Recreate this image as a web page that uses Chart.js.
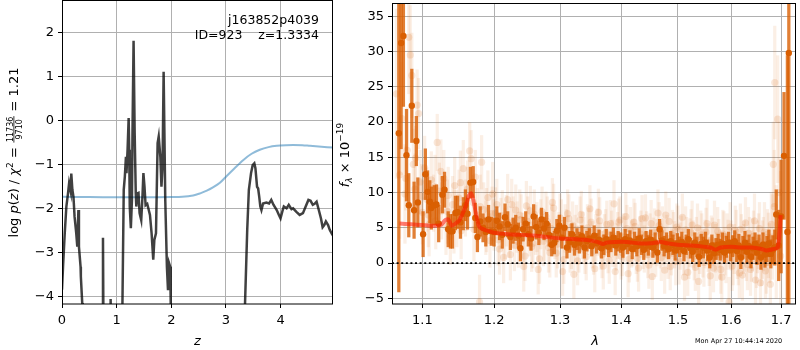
<!DOCTYPE html>
<html>
<head>
<meta charset="utf-8">
<script src="https://cdn.jsdelivr.net/npm/chart.js@4.4.0/dist/chart.umd.min.js"></script>
<style>
  html, body { margin: 0; padding: 0; background: #fff; }
  #wrap { position: relative; width: 800px; height: 350px; }
  canvas { position: absolute; top: 0; }
  #pz { left: 0; }
  #spec { left: 336px; }
</style>
</head>
<body>
<div id="wrap">
  <canvas id="pz" width="336" height="350"></canvas>
  <canvas id="spec" width="464" height="350"></canvas>
</div>
<script>
// ---- redshift panel ----
const zTicks = [0, 1, 2, 3, 4];
const logpTicks = [-4, -3, -2, -1, 0, 1, 2];

const zGrid = [0.00, 0.02, 0.05, 0.08, 0.11, 0.13, 0.16, 0.17, 0.19, 0.21, 0.23, 0.26, 0.28, 0.30, 0.31, 0.34, 0.345, 0.37, 0.38,
  0.74, 0.75, 0.76, 0.88, 0.89, 0.90,
  1.10, 1.106, 1.13, 1.15, 1.17, 1.18, 1.20, 1.22, 1.23, 1.24, 1.26, 1.28, 1.29, 1.31, 1.33, 1.35, 1.36, 1.38, 1.40, 1.42, 1.45,
  1.47, 1.49, 1.51, 1.53, 1.56, 1.58, 1.61, 1.64, 1.67, 1.69, 1.72, 1.75, 1.77, 1.80, 1.82, 1.84, 1.86, 1.89, 1.92, 1.94, 1.96,
  1.98, 1.99, 2.00,
  3.34, 3.35, 3.39, 3.42, 3.46, 3.49, 3.52, 3.54, 3.57, 3.59, 3.61, 3.63, 3.65, 3.68, 3.74, 3.79, 3.83, 3.87, 3.93, 3.97, 4.00,
  4.04, 4.06, 4.11, 4.15, 4.20, 4.23, 4.29, 4.35, 4.41, 4.46, 4.51, 4.55, 4.59, 4.63, 4.66, 4.70, 4.74, 4.77, 4.80, 4.83, 4.87,
  4.90, 4.94, 4.96];
const logpZ = [-3.85, -3.3, -2.57, -1.96, -1.66, -1.43, -1.62, -1.21, -1.58, -1.74, -2.19, -2.56, -2.87, -2.04, -2.87, -3.33, -3.55, -4.15, -5,
  -5, -2.67, -5, -5, -4.06, -5,
  -5, -4.2, -1.58, -1.28, -0.83, -1.2, -0.67, 0.05, -0.67, -1.96, -2.45, -1.81, -0.30, 1.81, -0.29, -1.66, -1.96, -1.66, -1.65, -2.11, -2.27,
  -1.81, -1.2, -1.51, -1.93, -1.90, -2.0, -2.15, -2.57, -3.17, -2.72, -2.57, -0.52, -0.37, -0.83, -1.51, -1.05, 1.10, -1.81, -3.33, -3.86, -3.25,
  -3.33, -4.16, -5,
  -5, -4.16, -2.49, -1.58, -1.2, -1.02, -0.98, -1.09, -1.51, -1.55, -1.74, -1.96, -2.04, -1.89, -1.87, -1.89, -1.81, -1.92, -2.04, -2.15, -2.23,
  -2.04, -1.96, -2.0, -1.92, -2.02, -2.0, -2.08, -2.15, -2.11, -1.96, -1.81, -1.83, -1.92, -1.89, -1.85, -2.04, -2.23, -2.43, -2.38, -2.30, -2.38,
  -2.49, -2.58, -2.62];

const priorZ = [0, 0.5, 1.0, 1.5, 2.0, 2.2, 2.4, 2.53, 2.65, 2.77, 2.89, 3.01, 3.15, 3.32, 3.47, 3.62, 3.78, 3.93, 4.1, 4.23, 4.4, 4.54, 4.75, 4.96];
const priorVal = [-1.74, -1.745, -1.75, -1.75, -1.745, -1.74, -1.71, -1.66, -1.6, -1.52, -1.42, -1.27, -1.1, -0.9, -0.76, -0.67, -0.61, -0.58, -0.565, -0.56, -0.565, -0.58, -0.6, -0.62];

// ---- spectrum panel ----
const lamTicks = [1.1, 1.2, 1.3, 1.4, 1.5, 1.6, 1.7];
const fluxTicks = [-5, 0, 5, 10, 15, 20, 25, 30, 35];
const lamMin = 1.0602, lamMax = 1.731;

const darkWave = [1.069, 1.072, 1.075, 1.079, 1.082, 1.086, 1.089, 1.092, 1.094, 1.101, 1.104, 1.107, 1.110, 1.112, 1.116, 1.119,
  1.122, 1.127, 1.130, 1.135, 1.138, 1.141, 1.145, 1.148, 1.152, 1.156, 1.159, 1.162, 1.166, 1.170, 1.173, 1.176, 1.180, 1.184,
  1.188, 1.192, 1.196,
  1.200, 1.204, 1.208, 1.212, 1.216, 1.220, 1.224, 1.228, 1.232, 1.236, 1.239, 1.243, 1.247, 1.251, 1.255, 1.259, 1.263, 1.267,
  1.271, 1.275, 1.279, 1.283, 1.287, 1.291, 1.295, 1.299, 1.303, 1.307, 1.311, 1.315, 1.319, 1.323, 1.327, 1.331, 1.335, 1.339,
  1.343, 1.347, 1.351, 1.355, 1.359, 1.363, 1.367, 1.371, 1.375, 1.379, 1.383, 1.387, 1.391, 1.395, 1.399, 1.403, 1.407, 1.411,
  1.415, 1.419, 1.423, 1.427, 1.431, 1.435, 1.439, 1.443, 1.447, 1.451, 1.455, 1.459, 1.463, 1.467, 1.471, 1.475, 1.479, 1.483,
  1.487, 1.491, 1.495, 1.499, 1.503, 1.507, 1.511, 1.515, 1.519, 1.523, 1.527, 1.531, 1.535, 1.539, 1.543, 1.547, 1.551, 1.555,
  1.559, 1.563, 1.567, 1.571, 1.575, 1.579, 1.583, 1.587, 1.591, 1.595, 1.599, 1.603, 1.607, 1.611, 1.615, 1.619, 1.623, 1.627,
  1.631, 1.635, 1.639, 1.643, 1.647, 1.651, 1.655, 1.659, 1.663, 1.667, 1.671, 1.675, 1.679, 1.683, 1.687, 1.690, 1.695, 1.700,
  1.706, 1.713, 1.716];
const darkFlux = [18.4, 31.2, 32.2, 15.3, 8.2, 22.3, 7.5, 17.3, 8.6, 4.1, 12.6, 10.1, 8.7, 7.8, 8.2, 8.3,
  5.6, 9.7, 10.4, 4.8, 4.5, 4.5, 7.1, 7.2, 5.8, 7.0, 8.2, 7.0, 11.4, 11.5, 6.4, 3.7, 5.9, 5.0,
  4.4, 6.2, 4.5,
  4.4, 6.0, 5.2, 4.0, 6.5, 5.5, 3.7, 4.6, 5.0, 3.9, 2.1, 4.8, 5.6, 4.1, 3.5, 6.6, 5.1, 4.3,
  6.2, 4.9, 5.6, 4.0, 2.6, 2.9, 4.6, 5.3, 3.6, 5.0, 2.2, 3.0, 4.1, 2.6, 3.4, 2.9, 3.8, 2.2,
  3.1, 3.5, 2.4, 3.9, 2.8, 3.3, 2.1, 2.6, 3.4, 2.3, 3.0, 3.6, 2.5, 3.1, 2.9, 2.2, 3.4, 2.7,
  3.2, 2.0, 3.0, 2.4, 3.5, 2.6, 1.9, 3.1, 2.5, 3.3, 2.2, 2.9, 1.5, 4.8, 3.2, 2.4, 2.9, 2.0,
  3.1, 2.6, 1.8, 2.8, 2.3, 3.0, 1.7, 2.6, 3.4, 2.1, 1.6, 2.9, 2.3, 0.9, 2.7, 2.2, 2.9, 1.8,
  0.8, 2.5, 1.4, 2.0, 2.6, 1.9, 2.8, 1.5, 2.3, 2.9, 1.8, 2.4, 3.1, 1.7, 2.5, 0.8, 2.2, 2.9,
  1.6, 2.4, 0.9, 2.1, 2.7, 1.5, 2.3, 0.8, 2.6, 1.2, 2.0, 2.8, 1.3, 1.9, 2.2, 6.9, 2.5, 6.6,
  15.2, 4.4, 29.8];
const darkErr = [22.5, 15, 10, 6.5, 4.5, 5.2, 4.0, 3.5, 3.5, 3.2, 3.6, 3.0, 3.0, 3.0, 2.8, 2.8,
  2.6, 2.6, 2.5, 2.5, 2.4, 2.4, 2.4, 2.3, 2.3, 2.3, 2.2, 2.2, 2.2, 2.2, 2.1, 2.1, 2.1, 2.0,
  2.0, 2.0, 2.0,
  2.0, 2.0, 1.9, 1.9, 1.9, 1.8, 1.8, 1.8, 1.8, 1.8, 1.8, 1.7, 1.7, 1.7, 1.7, 1.7, 1.7, 1.7,
  1.6, 1.6, 1.6, 1.6, 1.6, 1.6, 1.6, 1.5, 1.5, 1.5, 1.5, 1.5, 1.5, 1.5, 1.5, 1.5, 1.5, 1.5,
  1.4, 1.4, 1.4, 1.4, 1.4, 1.4, 1.4, 1.4, 1.4, 1.4, 1.4, 1.4, 1.4, 1.4, 1.4, 1.4, 1.4, 1.4,
  1.4, 1.4, 1.4, 1.4, 1.4, 1.4, 1.4, 1.4, 1.4, 1.4, 1.4, 1.4, 1.4, 1.4, 1.4, 1.4, 1.4, 1.4,
  1.4, 1.4, 1.4, 1.4, 1.4, 1.4, 1.4, 1.4, 1.4, 1.4, 1.4, 1.4, 1.4, 1.4, 1.4, 1.5, 1.5, 1.5,
  1.5, 1.5, 1.5, 1.5, 1.5, 1.5, 1.5, 1.5, 1.5, 1.5, 1.5, 1.5, 1.5, 1.5, 1.6, 1.6, 1.6, 1.6,
  1.6, 1.6, 1.6, 1.6, 1.6, 1.7, 1.7, 1.7, 1.7, 1.8, 1.8, 1.9, 2.0, 2.0, 2.5, 3.5, 5.0, 8.0,
  9.0, 25, 40];

// first faint (unbinned) set
const faintWave = [1.066, 1.070, 1.073, 1.077, 1.080, 1.082, 1.084, 1.086, 1.088, 1.090, 1.093, 1.095, 1.097, 1.100, 1.103, 1.106,
  1.109, 1.112, 1.115, 1.118, 1.120, 1.123, 1.126, 1.129, 1.132, 1.135, 1.138, 1.141, 1.144, 1.147, 1.150, 1.153, 1.156, 1.159,
  1.162, 1.165, 1.167, 1.170, 1.173, 1.176, 1.179, 1.182, 1.185, 1.188, 1.191, 1.194, 1.197,
  1.200, 1.204, 1.208, 1.212, 1.216, 1.220, 1.224, 1.228, 1.232, 1.236, 1.240, 1.244, 1.248, 1.252, 1.256, 1.260, 1.264, 1.268,
  1.272, 1.276, 1.280, 1.284, 1.288, 1.292, 1.296, 1.300, 1.304, 1.308, 1.312, 1.316, 1.320, 1.324, 1.328, 1.332, 1.336, 1.340,
  1.344, 1.348, 1.352, 1.356, 1.360, 1.364, 1.368, 1.372, 1.376, 1.380, 1.384, 1.388, 1.392, 1.396, 1.400, 1.404, 1.408, 1.412,
  1.416, 1.420, 1.424, 1.428, 1.432, 1.436, 1.440, 1.444, 1.448, 1.452, 1.456, 1.460, 1.464, 1.468, 1.472, 1.476, 1.480, 1.484,
  1.488, 1.492, 1.496, 1.500, 1.504, 1.508, 1.512, 1.516, 1.520, 1.524, 1.528, 1.532, 1.536, 1.540, 1.544, 1.548, 1.552, 1.556,
  1.560, 1.564, 1.568, 1.572, 1.576, 1.580, 1.584, 1.588, 1.592, 1.596, 1.600, 1.604, 1.608, 1.612, 1.616, 1.620, 1.624, 1.628,
  1.632, 1.636, 1.640, 1.644, 1.648, 1.652, 1.656, 1.660, 1.664, 1.668, 1.672, 1.676, 1.680, 1.684, 1.687, 1.690, 1.693, 1.696,
  1.699];
const faintFlux = [24.0, 12.5, 20.5, 9.8, 16.0, 32.0, 29.5, 26.6, 14.0, 10.5, 22.4, 21.2, 11.5, 7.2, 13.5, 9.0,
  5.5, 11.8, 8.5, 6.0, 17.1, 10.2, 7.4, 12.0, 5.2, 9.6, 3.8, 8.3, 11.0, 6.3, 9.2, 4.6, 13.4, 7.8,
  10.5, 15.9, 14.8, 8.6, 12.2, 6.8, -5.5, 14.3, 7.6, 5.0, 9.3, 3.2, 7.0,
  5.4, 8.3, 2.0, 6.7, 4.2, 9.0, 1.2, 5.8, 7.5, 3.0, 6.2, -0.5, 8.1, 4.5, 2.3, 6.9, 5.1, 0.6,
  7.3, 3.8, 5.9, 1.5, 8.6, 4.0, 2.7, 6.4, -1.2, 4.9, 7.0, 2.1, 5.3, 3.4, 0.3, 6.1, 3.9, 1.8,
  5.0, 7.7, 2.6, -0.8, 4.4, 6.0, 1.2, 3.6, 5.5, 0.4, 4.1, 8.4, 2.3, 5.8, 1.0, 3.7, 6.6, -1.5,
  4.6, 2.9, 5.2, 0.7, 3.3, 6.3, 2.0, 4.0, -0.3, 5.6, 3.1, 1.4, 7.1, 2.6, 4.7, -1.0, 3.5, 5.9,
  1.6, 3.9, 0.2, 4.8, 2.4, 6.5, -2.0, 3.2, 1.1, 4.3, 2.7, -0.6, 5.0, 1.9, 3.6, 0.1, 4.4, 2.2,
  -1.8, 3.0, 5.4, 0.9, 2.8, -0.9, 4.1, 1.7, 3.5, -5.5, 2.5, 0.4, 4.6, 1.3, -1.4, 3.4, 2.0, 5.7,
  -0.2, 2.9, 1.0, 3.8, -2.4, 2.3, 4.9, 0.6, 2.7, -1.1, 3.6, 1.4, 5.5, 14.0, 25.6, 3.0, 20.4, 10.0,
  1.0];
const faintErr = [12, 9, 8, 7, 6, 8, 7, 6, 5, 5, 5, 5, 4.5, 4.5, 4.5, 4.5,
  4.5, 4, 4, 4, 4, 4, 4, 4, 4, 4, 4, 4, 4, 4, 4, 4, 4, 4,
  4, 4, 4, 3.8, 3.8, 3.8, 3.8, 3.8, 3.8, 3.8, 3.8, 3.8, 3.8,
  3.6, 3.6, 3.6, 3.6, 3.6, 3.6, 3.6, 3.6, 3.6, 3.6, 3.5, 3.5, 3.5, 3.5, 3.5, 3.5, 3.5, 3.5,
  3.5, 3.5, 3.5, 3.5, 3.4, 3.4, 3.4, 3.4, 3.4, 3.4, 3.4, 3.4, 3.4, 3.4, 3.4, 3.3, 3.3, 3.3,
  3.3, 3.3, 3.3, 3.3, 3.3, 3.3, 3.3, 3.3, 3.3, 3.3, 3.3, 3.3, 3.3, 3.3, 3.3, 3.3, 3.3, 3.3,
  3.3, 3.3, 3.3, 3.3, 3.3, 3.3, 3.3, 3.3, 3.3, 3.3, 3.3, 3.3, 3.3, 3.3, 3.3, 3.3, 3.3, 3.3,
  3.3, 3.3, 3.3, 3.3, 3.3, 3.3, 3.3, 3.3, 3.3, 3.3, 3.3, 3.3, 3.4, 3.4, 3.4, 3.4, 3.4, 3.4,
  3.4, 3.4, 3.4, 3.4, 3.4, 3.4, 3.4, 3.4, 3.5, 3.5, 3.5, 3.5, 3.5, 3.5, 3.5, 3.5, 3.5, 3.6,
  3.6, 3.6, 3.6, 3.6, 3.7, 3.7, 3.7, 3.8, 3.8, 3.9, 4.0, 4.2, 4.5, 6, 8, 8, 9, 10,
  12];

// second faint set, interleaved with the first
const faint2Wave = [1.078, 1.091, 1.099, 1.108, 1.117, 1.125, 1.134, 1.143, 1.152, 1.161, 1.171, 1.180, 1.189, 1.198,
  1.202, 1.206, 1.210, 1.214, 1.218, 1.222, 1.226, 1.230, 1.234, 1.238, 1.242, 1.246, 1.250, 1.254, 1.258, 1.262,
  1.266, 1.270, 1.274, 1.278, 1.282, 1.286, 1.290, 1.294, 1.298, 1.302, 1.306, 1.310, 1.314, 1.318, 1.322, 1.326,
  1.330, 1.334, 1.338, 1.342, 1.346, 1.350, 1.354, 1.358, 1.362, 1.366, 1.370, 1.374, 1.378, 1.382, 1.386, 1.390,
  1.394, 1.398, 1.402, 1.406, 1.410, 1.414, 1.418, 1.422, 1.426, 1.430, 1.434, 1.438, 1.442, 1.446, 1.450, 1.454,
  1.458, 1.462, 1.466, 1.470, 1.474, 1.478, 1.482, 1.486, 1.490, 1.494, 1.498, 1.502, 1.506, 1.510, 1.514, 1.518,
  1.522, 1.526, 1.530, 1.534, 1.538, 1.542, 1.546, 1.550, 1.554, 1.558, 1.562, 1.566, 1.570, 1.574, 1.578, 1.582,
  1.586, 1.590, 1.594, 1.598, 1.602, 1.606, 1.610, 1.614, 1.618, 1.622, 1.626, 1.630, 1.634, 1.638, 1.642, 1.646,
  1.650, 1.654, 1.658, 1.662, 1.666, 1.670, 1.674, 1.678, 1.682, 1.686];
const faint2Flux = [12.0, 14.9, 9.5, 6.8, 10.8, 13.0, 7.3, 5.9, 11.4, 9.1, 4.8, 8.0, 6.1, 9.8,
  7.1, 3.3, 5.6, 0.8, 6.0, 4.4, 8.3, 2.5, 5.1, 6.8, 3.6, 1.0, 5.9, 7.4, 2.8, 4.7,
  -0.9, 5.5, 3.1, 6.6, 2.2, 4.9, 7.8, 1.4, 3.8, 5.6, 0.5, 4.2, 6.3, 2.6, -1.6, 4.8,
  2.0, 6.9, 3.2, 0.9, 4.5, 5.8, 1.7, 3.6, 7.2, 2.4, -0.4, 4.3, 1.9, 5.6, 2.8, -1.2,
  3.9, 6.1, 1.5, 3.3, 4.9, 0.6, 2.7, 5.8, 1.8, -0.7, 4.1, 2.5, 6.4, 1.2, 3.7, -1.9,
  4.4, 2.9, 5.3, 0.8, 3.0, 6.8, 1.1, -0.5, 4.2, 2.6, 5.1, 0.3, 3.4, 1.6, 4.7, -1.3,
  2.9, 5.4, 1.0, 3.1, -2.6, 4.0, 1.4, 2.7, 5.6, 0.2, 3.3, -0.7, 2.1, 4.5, 1.2, -2.0,
  3.8, 0.7, 2.6, 5.1, -0.4, 2.0, 3.9, 0.5, 4.8, -1.7, 2.4, 1.1, 4.2, -0.9, 2.6, 6.0,
  0.3, 3.1, -2.8, 1.9, 4.4, 0.1, 2.5, -3.0, 3.7, 8.0];
const faint2Err = [4.5, 4.5, 4.5, 4.5, 4.5, 4.5, 4.5, 4.5, 4.5, 4.5, 4.5, 4.5, 4.5, 4.5,
  3.6, 3.6, 3.6, 3.6, 3.6, 3.6, 3.6, 3.6, 3.6, 3.6, 3.5, 3.5, 3.5, 3.5, 3.5, 3.5,
  3.5, 3.5, 3.5, 3.5, 3.5, 3.5, 3.4, 3.4, 3.4, 3.4, 3.4, 3.4, 3.4, 3.4, 3.4, 3.4,
  3.3, 3.3, 3.3, 3.3, 3.3, 3.3, 3.3, 3.3, 3.3, 3.3, 3.3, 3.3, 3.3, 3.3, 3.3, 3.3,
  3.3, 3.3, 3.3, 3.3, 3.3, 3.3, 3.3, 3.3, 3.3, 3.3, 3.3, 3.3, 3.3, 3.3, 3.3, 3.3,
  3.3, 3.3, 3.3, 3.3, 3.3, 3.3, 3.3, 3.3, 3.3, 3.3, 3.3, 3.3, 3.3, 3.3, 3.3, 3.3,
  3.4, 3.4, 3.4, 3.4, 3.4, 3.4, 3.4, 3.4, 3.4, 3.4, 3.4, 3.4, 3.4, 3.4, 3.5, 3.5,
  3.5, 3.5, 3.5, 3.5, 3.5, 3.5, 3.6, 3.6, 3.6, 3.6, 3.6, 3.6, 3.7, 3.7, 3.7, 3.8,
  3.8, 3.9, 4.0, 4.1, 4.2, 4.4, 4.6, 5.0, 6.0, 8.0];

const modelWave = [1.070, 1.085, 1.100, 1.115, 1.125, 1.131, 1.135, 1.140, 1.145, 1.150, 1.155, 1.160, 1.164, 1.167, 1.170, 1.174,
  1.178, 1.182, 1.190, 1.200, 1.220, 1.240, 1.260, 1.280, 1.300, 1.320, 1.340, 1.360, 1.370, 1.375, 1.390, 1.410, 1.430, 1.450,
  1.470, 1.480, 1.500, 1.520, 1.540, 1.560, 1.570, 1.580, 1.600, 1.620, 1.640, 1.660, 1.670, 1.685, 1.693, 1.697, 1.699];
const modelFlux = [5.6, 5.5, 5.4, 5.3, 5.4, 6.1, 6.2, 5.3, 5.6, 6.0, 7.0, 8.3, 9.6, 9.9, 9.0, 7.0,
  5.3, 4.9, 4.6, 4.3, 4.1, 4.0, 3.9, 3.7, 3.5, 3.4, 3.3, 3.0, 2.7, 2.9, 3.0, 3.0, 2.8, 2.8,
  3.0, 2.8, 2.6, 2.5, 2.4, 2.2, 1.9, 2.2, 2.3, 2.2, 2.2, 2.0, 1.8, 2.0, 2.2, 4.5, 6.8];

const orange = 'rgb(217, 95, 2)';
const pairs = (xs, ys) => xs.map((x, i) => ({ x: x, y: ys[i] }));
const spans = (xs, ys, es) => xs.map((x, i) => ({ x: x, y: [ys[i] - es[i], ys[i] + es[i]] }));
const minus = v => String(v).replace('-', '\u2212');

Chart.defaults.font.family = "'DejaVu Sans', sans-serif";
Chart.defaults.color = '#000';

function axisOpts(ticks, fixedSize, isX, fmt, extra) {
  return Object.assign({
    afterBuildTicks: s => { s.ticks = ticks.map(v => ({ value: v })); },
    // fixed axis thickness and no extra room for the end labels
    afterFit: s => {
      if (isX) { s.height = fixedSize; s.paddingLeft = 0; s.paddingRight = 0; }
      else { s.width = fixedSize; s.paddingTop = 0; s.paddingBottom = 0; }
    },
    grid: { color: '#b0b0b0', lineWidth: 1, tickColor: '#000', tickLength: 4, offset: false },
    border: { display: false },
    ticks: { color: '#000', font: { size: 13 }, padding: isX ? 5 : 4, maxRotation: 0, autoSkip: false, callback: fmt }
  }, extra);
}

// black box round the plotting area
const frame = {
  id: 'frame',
  afterDraw(chart) {
    const { ctx, chartArea: a } = chart;
    ctx.save();
    ctx.strokeStyle = '#000';
    ctx.lineWidth = 1;
    ctx.strokeRect(Math.round(a.left) + 0.5, Math.round(a.top) - 0.5, Math.round(a.right - a.left) - 1, Math.round(a.bottom - a.top) + 0.5);
    ctx.restore();
  }
};

// lays out a run of text pieces (plain, italic, raised, stacked fraction) centred on 0
function drawRun(ctx, parts) {
  const widths = parts.map(p => {
    ctx.font = p.f;
    if (p.num) return Math.max(ctx.measureText(p.num).width, ctx.measureText(p.den).width) + 2;
    return ctx.measureText(p.t).width;
  });
  let x = -widths.reduce((a, b) => a + b, 0) / 2;
  ctx.textBaseline = 'alphabetic';
  parts.forEach((p, i) => {
    ctx.font = p.f;
    if (p.num) {
      const w = widths[i];
      ctx.textAlign = 'center';
      ctx.fillText(p.num, x + w / 2, -5.5);
      ctx.fillText(p.den, x + w / 2, 4);
      ctx.fillRect(x + 0.5, -4.5, w - 1, 0.8);
    } else {
      ctx.textAlign = 'left';
      ctx.fillText(p.t, x, p.dy || 0);
    }
    x += widths[i];
  });
}

const pzLabels = {
  id: 'pzLabels',
  afterDraw(chart) {
    const ctx = chart.ctx;
    const N = '13px "DejaVu Sans"', I = 'italic 13px "DejaVu Sans"';
    ctx.save();
    ctx.fillStyle = '#000';
    ctx.translate(18, 152.5);
    ctx.rotate(-Math.PI / 2);
    drawRun(ctx, [
      { t: 'log ', f: N }, { t: 'p', f: I }, { t: '(', f: N }, { t: 'z', f: I }, { t: ') / ', f: N },
      { t: '\u03c7', f: I }, { t: '2', f: '9px "DejaVu Sans"', dy: -5 }, { t: ' = ', f: N },
      { num: '11736', den: '9710', f: '8px "DejaVu Sans"' }, { t: ' = 1.21', f: N }
    ]);
    ctx.restore();

    ctx.save();
    ctx.fillStyle = '#000';
    ctx.font = I;
    ctx.textAlign = 'center';
    ctx.fillText('z', 197.5, 345);
    ctx.font = '12.5px "DejaVu Sans"';
    ctx.textAlign = 'right';
    ctx.fillText('j163852p4039', 319, 24);
    ctx.fillText('ID=923    z=1.3334', 319, 38.5);
    ctx.restore();
  }
};

const specLabels = {
  id: 'specLabels',
  afterDraw(chart) {
    const ctx = chart.ctx;
    ctx.save();
    ctx.fillStyle = '#000';
    ctx.translate(13, 155);
    ctx.rotate(-Math.PI / 2);
    drawRun(ctx, [
      { t: 'f', f: 'italic 13px "DejaVu Sans"' }, { t: '\u03bb', f: 'italic 9px "DejaVu Sans"', dy: 3 },
      { t: ' \u00d7 10', f: '13px "DejaVu Sans"' }, { t: '\u221219', f: '9px "DejaVu Sans"', dy: -6 }
    ]);
    ctx.restore();

    ctx.save();
    ctx.fillStyle = '#000';
    ctx.font = 'italic 13px "DejaVu Sans"';
    ctx.textAlign = 'center';
    ctx.fillText('\u03bb', 259, 345);
    ctx.font = '6.5px "DejaVu Sans"';
    ctx.textAlign = 'left';
    ctx.fillText('Mon Apr 27 10:44:14 2020', 359, 343);
    ctx.restore();
  }
};

new Chart(document.getElementById('pz'), {
  type: 'line',
  data: {
    datasets: [{
      data: pairs(zGrid, logpZ),
      borderColor: 'rgba(0, 0, 0, 0.75)',
      borderWidth: 2.5,
      pointRadius: 0,
      tension: 0,
      clip: 0,
      order: 0
    }, {
      data: pairs(priorZ, priorVal),
      borderColor: 'rgba(31, 119, 180, 0.5)',
      borderWidth: 2,
      pointRadius: 0,
      tension: 0.3,
      clip: 0,
      order: 1
    }]
  },
  options: {
    responsive: false,
    devicePixelRatio: 1,
    animation: false,
    layout: { padding: { top: 1, right: 3, left: 0, bottom: 0 } },
    plugins: { legend: { display: false }, tooltip: { enabled: false } },
    scales: {
      x: axisOpts(zTicks, 46, true, minus, { type: 'linear', min: 0, max: 4.96 }),
      y: axisOpts(logpTicks, 62, false, minus, { type: 'linear', min: -4.175, max: 2.711 })
    }
  },
  plugins: [frame, pzLabels]
});

new Chart(document.getElementById('spec'), {
  type: 'scatter',
  data: {
    datasets: [{
      type: 'line',
      data: [{ x: lamMin, y: 0 }, { x: lamMax, y: 0 }],
      borderColor: '#000',
      borderWidth: 1.6,
      borderDash: [2, 2.6],
      pointRadius: 0,
      clip: 0,
      order: 0
    }, {
      type: 'line',
      data: pairs(modelWave, modelFlux),
      borderColor: 'rgba(255, 20, 0, 0.55)',
      borderWidth: 4,
      pointRadius: 0,
      tension: 0.2,
      clip: 0,
      order: 1
    }, {
      type: 'scatter',
      data: pairs(darkWave, darkFlux),
      backgroundColor: orange,
      borderWidth: 0,
      pointRadius: 3.2,
      clip: 0,
      order: 2
    }, {
      type: 'bar',
      data: spans(darkWave, darkFlux, darkErr),
      backgroundColor: 'rgba(217, 95, 2, 0.8)',
      barThickness: 2.6,
      grouped: false,
      clip: 0,
      order: 3
    }, {
      type: 'scatter',
      data: pairs(faintWave, faintFlux).concat(pairs(faint2Wave, faint2Flux)),
      backgroundColor: 'rgba(217, 95, 2, 0.15)',
      borderWidth: 0,
      pointRadius: 3.6,
      clip: 0,
      order: 4
    }, {
      type: 'bar',
      data: spans(faintWave, faintFlux, faintErr).concat(spans(faint2Wave, faint2Flux, faint2Err)),
      backgroundColor: 'rgba(217, 95, 2, 0.1)',
      barThickness: 2.6,
      grouped: false,
      clip: 0,
      order: 5
    }]
  },
  options: {
    responsive: false,
    devicePixelRatio: 1,
    animation: false,
    layout: { padding: { top: 1, right: 1, left: 0, bottom: 0 } },
    plugins: { legend: { display: false }, tooltip: { enabled: false } },
    scales: {
      x: axisOpts(lamTicks, 46, true, v => v.toFixed(1), { type: 'logarithmic', min: lamMin, max: lamMax, offset: false }),
      y: axisOpts(fluxTicks, 56, false, minus, { type: 'linear', min: -5.8, max: 36.73 })
    }
  },
  plugins: [frame, specLabels]
});
</script>
</body>
</html>
